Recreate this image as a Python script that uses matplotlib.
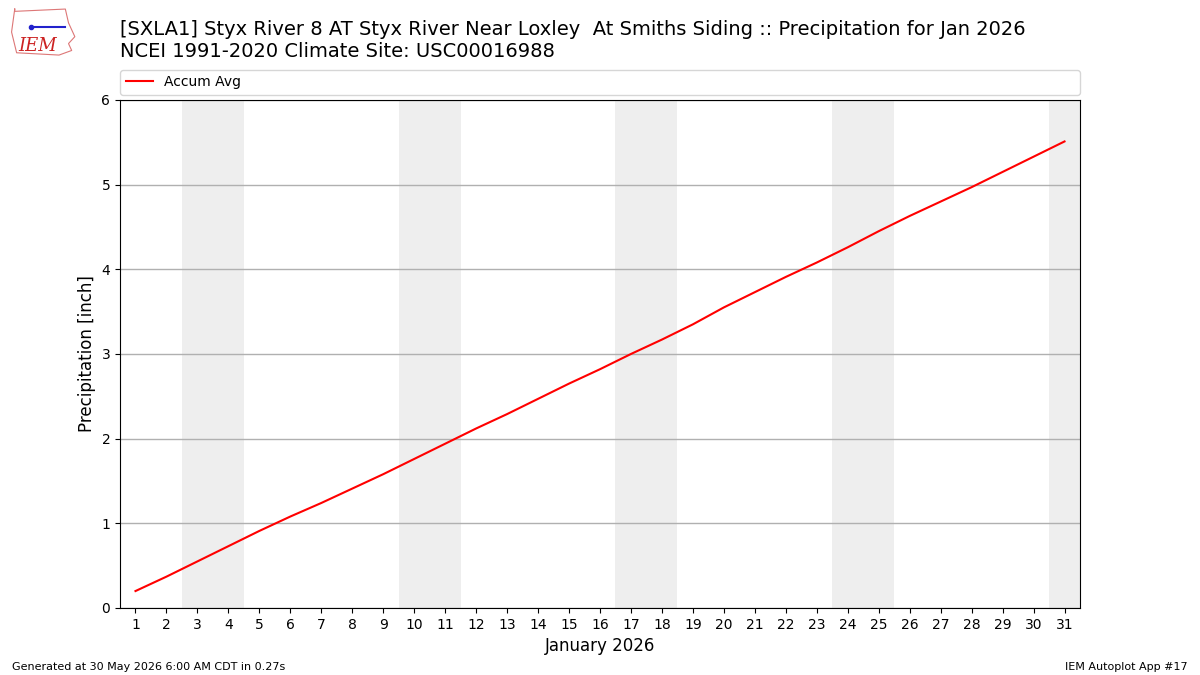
import matplotlib
matplotlib.use("Agg")
import matplotlib.pyplot as plt
import numpy as np

# Day of month and accumulated climatology precipitation (inch)
days = list(range(1, 32))
accum_avg = [0.20, 0.37, 0.55, 0.73, 0.91, 1.08, 1.24, 1.41, 1.58, 1.76,
             1.94, 2.12, 2.29, 2.47, 2.65, 2.82, 3.00, 3.17, 3.35, 3.55,
             3.73, 3.91, 4.08, 4.26, 4.45, 4.63, 4.80, 4.97, 5.15, 5.33,
             5.51]
# weekend days (Sat/Sun) in Jan 2026
weekend_starts = [3, 10, 17, 24, 31]

title = ("[SXLA1] Styx River 8 AT Styx River Near Loxley  At Smiths Siding :: "
         "Precipitation for Jan 2026\nNCEI 1991-2020 Climate Site: USC00016988")

fig = plt.figure(figsize=(12, 6.75), dpi=100)
ax = fig.add_axes([0.1, 0.0993, 0.8, 0.7526])

for d in weekend_starts:
    ax.axvspan(d - 0.5, min(d + 1.5, 31.5), color="#eeeeee", zorder=0, lw=0)

ax.plot(days, accum_avg, color="red", lw=1.5, label="Accum Avg", zorder=3)

ax.set_xlim(0.5, 31.5)
ax.set_ylim(0, 6)
ax.set_xticks(days)
ax.set_yticks(range(0, 7))
ax.grid(axis="y", color="#b0b0b0", lw=1)
ax.set_axisbelow(True)
ax.set_ylabel("Precipitation [inch]", fontsize=12)
ax.set_xlabel("January 2026", fontsize=12)
ax.tick_params(labelsize=10)

ax.legend(loc="lower left", bbox_to_anchor=(0, 1.01, 1, 0.05), mode="expand",
          fontsize=10, borderaxespad=0, ncol=1)

fig.text(0.1, 0.971, title, fontsize=14, va="top", ha="left")

# rough stand-in for the IEM logo
fig.text(0.031, 0.932, "IEM", color="#cc2222", fontsize=13, family="DejaVu Serif",
         style="italic", ha="center", va="center")
logo = fig.add_axes([0.007, 0.915, 0.058, 0.075])
logo.axis("off")
ox = [0.05, 0.05, 0.85, 0.9, 1.0, 0.9, 0.95, 0.75, 0.08, 0.0, 0.05]
oy = [1.0, 0.95, 1.0, 0.7, 0.4, 0.25, 0.1, 0.0, 0.05, 0.5, 1.0]
logo.plot(ox, oy, color="#dd7777", lw=0.8)
logo.plot([0.3, 0.85], [0.6, 0.6], color="#2222cc", lw=1.5)
logo.plot([0.3], [0.6], "o", color="#2222cc", ms=3)
logo.set_xlim(-0.05, 1.05)
logo.set_ylim(-0.05, 1.05)

fig.text(0.01, 0.008, "Generated at 30 May 2026 6:00 AM CDT in 0.27s", fontsize=8)
fig.text(0.99, 0.008, "IEM Autoplot App #17", fontsize=8, ha="right")

fig.savefig("out.png", dpi=100)
